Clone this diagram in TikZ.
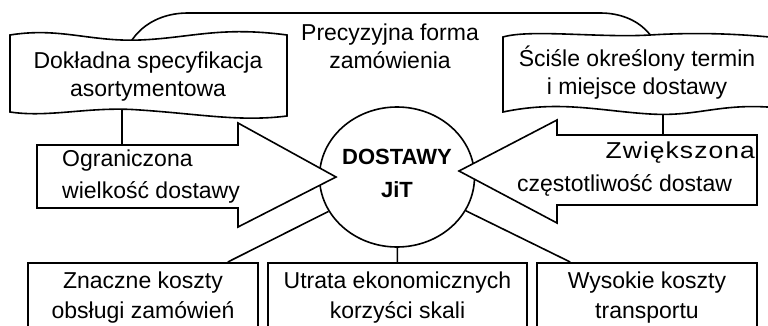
\documentclass[tikz,border=0pt]{standalone}
\usepackage{fontspec}
\usepackage{graphicx}
\setmainfont{Liberation Sans}
\usetikzlibrary{shapes.geometric,calc}
\tikzset{
  linia/.style={line width=1.6pt,line join=miter},
  tekst/.style={font=\fontsize{23}{28.5}\selectfont,align=center,inner sep=0pt},
  strzal/.style={font=\fontsize{23}{31.5}\selectfont,inner sep=0pt},
  dolny/.style={draw,line width=1.6pt,fill=white,anchor=north,minimum height=70pt,
    font=\fontsize{23}{30}\selectfont,align=center,inner sep=0pt},
}
\begin{document}
\begin{tikzpicture}[x=1pt,y=-1pt]
\useasboundingbox(0,0)rectangle(768,326);
\fill[white](0,0)rectangle(768,326);
\clip(0,0)rectangle(768,326);
% forma zamowienia (tlo)
\draw[linia,fill=white](122,152)--(122,73) .. controls (122,40) and (148,13) .. (188,13)--(600,13)
  .. controls (640,13) and (663,40) .. (663,73)--(663,152) .. controls (663,165) and (655,172) .. (640,172)
  --(145,172) .. controls (130,172) and (122,165) .. (122,152)--cycle;
\node[tekst](forma) at (390,46.5){Precyzyjna forma\\zamówienia};
%
% wstegi
\draw[linia,fill=white](10,35) .. controls (60,27) and (90,42) .. (140,40) .. controls (190,38) and (220,26) .. (287,35)
  --(287,116) .. controls (240,122) and (200,114) .. (140,110) .. controls (90,106) and (50,118) .. (10,112)--cycle;
\node[tekst](spec) at (148,76.5){Dokładna specyfikacja\\asortymentowa};
\draw[linia,fill=white](503,37) .. controls (530,29) and (600,38) .. (650,35) .. controls (700,32) and (740,34) .. (780,38)
  --(780,108) .. controls (720,102) and (700,117) .. (650,114) .. controls (600,111) and (560,100) .. (503,112)--cycle;
\node[tekst](termin) at (637,72.7){Ściśle określony termin\\i miejsce dostawy};
%===========================
% dostawy JiT
\node[draw,linia,fill=white,ellipse,minimum width=153pt,minimum height=140pt,inner sep=0pt,
  font=\fontsize{22}{33}\selectfont\bfseries,align=center](jit) at (397,177){DOSTAWY\\JiT\rule[-7pt]{0pt}{7pt}};
%
\draw[linia,fill=white](37,145)--(238,145)--(238,123)--(336,177)--(238,227)--(238,208)--(37,208)--cycle;
\node[strzal,align=left,anchor=west](ogr) at (62,176.5){Ograniczona\\wielkość dostawy};
\draw[linia,fill=white](757,135)--(557,135)--(557,120)--(459,171)--(557,223)--(557,205)--(757,205)--cycle;
\node[strzal,anchor=east](zw) at (755,153){\scalebox{1.15}[1]{\addfontfeature{LetterSpace=4}Zwiększona}};
\node[strzal,anchor=west](cz) at (517,185){częstotliwość dostaw};
%================================
% skutki
\foreach \n/\x/\w/\t in {zk/143/230/{Znaczne koszty\\obsługi zamówień},
  ut/397.5/259/{Utrata ekonomicznych\\korzyści skali},wk/647/220/{Wysokie koszty\\transportu}}
  {\node[dolny,minimum width=\w pt](\n) at (\x,262){\t};}
\coordinate(c1) at ($(zk.north east)+(-31,0)$);
\coordinate(c3) at ($(wk.north west)+(34,0)$);
\draw[linia](jit)--(c1);
\draw[linia](jit)--(ut);
\draw[linia](jit)--(c3);
\end{tikzpicture}
\end{document}
